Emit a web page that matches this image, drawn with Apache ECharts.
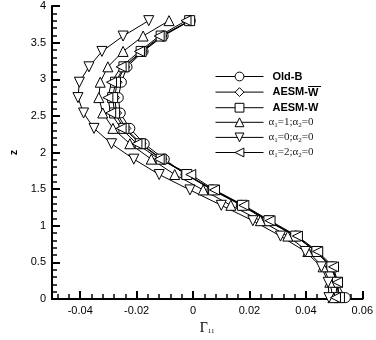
<!DOCTYPE html>
<html>
<head>
<meta charset="utf-8">
<script src="https://cdn.jsdelivr.net/npm/echarts@6/dist/echarts.min.js"></script>
<style>
  html, body { margin: 0; padding: 0; background: #fff; }
  #chart { width: 376px; height: 340px; }
</style>
</head>
<body>
<div id="chart"></div>
<script>
// z stations shared by every profile
const zLevels = [3.8, 3.59, 3.38, 3.17, 2.96, 2.75, 2.54, 2.33, 2.12, 1.91, 1.7, 1.49, 1.28, 1.07, 0.86, 0.65, 0.44, 0.23, 0.02]

const oldB = [-0.001, -0.0106, -0.0177, -0.0234, -0.0254, -0.0265, -0.0258, -0.0224, -0.0173, -0.0102, -0.0025, 0.0067, 0.0171, 0.0262, 0.0364, 0.0435, 0.0492, 0.0509, 0.054]
const aesmWbar = [-0.0012, -0.011, -0.018, -0.0242, -0.0269, -0.0278, -0.0271, -0.0238, -0.0184, -0.011, -0.0022, 0.007, 0.0175, 0.0265, 0.0364, 0.0435, 0.0489, 0.051, 0.0516]
const aesmW = [-0.0012, -0.0113, -0.0184, -0.0245, -0.0275, -0.0285, -0.0278, -0.0245, -0.0187, -0.0113, -0.0022, 0.0073, 0.0175, 0.0269, 0.0364, 0.0439, 0.0492, 0.0512, 0.0519]
const alpha10 = [-0.0085, -0.0177, -0.0248, -0.0302, -0.0329, -0.0334, -0.032, -0.0284, -0.0224, -0.0148, -0.0065, 0.0036, 0.0134, 0.0239, 0.0336, 0.0407, 0.0461, 0.0485, 0.0496]
const alpha00 = [-0.0157, -0.0248, -0.0323, -0.0369, -0.0403, -0.0408, -0.0388, -0.0351, -0.0289, -0.021, -0.012, -0.0011, 0.01, 0.0212, 0.031, 0.0398, 0.0455, 0.0479, 0.0482]
const alpha20 = [-0.0025, -0.012, -0.019, -0.0255, -0.0289, -0.0302, -0.0292, -0.0255, -0.0199, -0.012, -0.0008, 0.0076, 0.018, 0.0273, 0.037, 0.0442, 0.0498, 0.0512, 0.0505]

const seriesNames = ['Old-B', 'AESM-Wbar', 'AESM-W', 'a10', 'a00', 'a20']
const alphaLabels = { a10: ['1', '0'], a00: ['0', '0'], a20: ['2', '0'] }

const xMajor = [-0.04, -0.02, 0, 0.02, 0.04, 0.06]
const xAllTicks = [-0.048, -0.044, -0.04, -0.036, -0.032, -0.028, -0.024, -0.02, -0.016, -0.012, -0.008, -0.004, 0,
  0.004, 0.008, 0.012, 0.016, 0.02, 0.024, 0.028, 0.032, 0.036, 0.04, 0.044, 0.048, 0.052, 0.056, 0.06]

const chart = echarts.init(document.getElementById('chart'))

// little image used as the background of the "W" to draw the bar over it
const barCanvas = document.createElement('canvas')
barCanvas.width = 20
barCanvas.height = 20
const bctx = barCanvas.getContext('2d')
bctx.fillStyle = '#000'
bctx.fillRect(0, 0, 20, 2)

function profile(name, vals, symbol, rotate) {
  return {
    name,
    type: 'line',
    data: zLevels.map((z, i) => [vals[i], z]),
    symbol,
    symbolSize: 10,
    symbolRotate: rotate || 0,
    showAllSymbol: true,
    lineStyle: { color: '#000', width: 1 },
    itemStyle: { color: '#fff', borderColor: '#000', borderWidth: 1 },
    emphasis: { disabled: true },
    animation: false,
  }
}

const sansBold = { fontFamily: 'Liberation Sans', fontWeight: 'bold', fontSize: 11, color: '#000' }
const serif = { fontFamily: 'Liberation Serif', fontSize: 11, color: '#222' }

chart.setOption({
  backgroundColor: '#fff',
  animation: false,
  grid: { left: 45, right: 6, top: 6, bottom: 35, containLabel: false },
  legend: {
    orient: 'vertical',
    left: 210,
    top: 66,
    itemWidth: 48,
    itemHeight: 11,
    itemGap: 3.6,
    selectedMode: false,
    lineStyle: { width: 1, color: '#000' },
    itemStyle: { borderWidth: 1, borderColor: '#000', color: '#fff' },
    formatter: (n) => {
      if (alphaLabels[n]) {
        const [a, b] = alphaLabels[n]
        return `{s|α}{sub|1}{s|=${a};α}{sub|2}{s|=${b}}`
      }
      if (n === 'AESM-Wbar') return '{b|AESM-}{ov|W}'
      return `{b|${n}}`
    },
    textStyle: {
      rich: {
        b: Object.assign({ padding: [0, 0, 0, 4] }, sansBold),
        ov: Object.assign({ padding: [2, 0, 0, 0], backgroundColor: { image: barCanvas } }, sansBold),
        s: Object.assign({ lineHeight: 12 }, serif),
        sub: { fontFamily: 'Liberation Serif', fontSize: 7, color: '#222', verticalAlign: 'bottom', lineHeight: 7 },
      },
    },
    data: seriesNames,
  },
  xAxis: [
    {
      type: 'value',
      min: -0.05,
      max: 0.06,
      name: '{g|Γ}{sub|11}',
      nameLocation: 'middle',
      nameGap: 19,
      nameTextStyle: {
        rich: {
          g: { fontFamily: 'Liberation Serif', fontSize: 14, color: '#000' },
          sub: { fontFamily: 'Liberation Serif', fontSize: 7, color: '#000', verticalAlign: 'bottom', lineHeight: 7 },
        },
      },
      axisLine: { onZero: false, lineStyle: { color: '#000', width: 2 } },
      axisTick: { show: true, inside: true, length: 5, customValues: xAllTicks, lineStyle: { color: '#000', width: 1.5 } },
      axisLabel: { customValues: xMajor, margin: 6, fontFamily: 'Liberation Sans', fontSize: 11, color: '#000',
        formatter: (v) => (v === 0 ? '0' : String(+v.toFixed(2))) },
      splitLine: { show: false },
    },
    {
      type: 'value',
      min: -0.05,
      max: 0.06,
      position: 'bottom',
      axisLine: { show: true, onZero: false, lineStyle: { color: '#000', width: 2 } },
      axisTick: { show: true, inside: true, length: 8, customValues: xMajor, lineStyle: { color: '#000', width: 2 } },
      axisLabel: { show: false, customValues: xMajor },
      splitLine: { show: false },
    },
  ],
  yAxis: {
    type: 'value',
    min: 0,
    max: 4,
    interval: 0.5,
    name: 'z',
    nameLocation: 'middle',
    nameGap: 33,
    nameTextStyle: { fontFamily: 'Liberation Sans', fontWeight: 'bold', fontSize: 11, color: '#000' },
    axisLine: { onZero: false, lineStyle: { color: '#000', width: 2 } },
    axisTick: { show: true, inside: true, length: 8, lineStyle: { color: '#000', width: 2 } },
    minorTick: { show: true, splitNumber: 5, length: 5, lineStyle: { color: '#000', width: 1.5 } },
    axisLabel: { margin: 6, fontFamily: 'Liberation Sans', fontSize: 11, color: '#000' },
    splitLine: { show: false },
  },
  series: [
    profile(seriesNames[0], oldB, 'circle'),
    profile(seriesNames[1], aesmWbar, 'diamond'),
    profile(seriesNames[2], aesmW, 'rect'),
    profile(seriesNames[3], alpha10, 'triangle'),
    profile(seriesNames[4], alpha00, 'triangle', 180),
    profile(seriesNames[5], alpha20, 'triangle', 90),
  ],
})
</script>
</body>
</html>
